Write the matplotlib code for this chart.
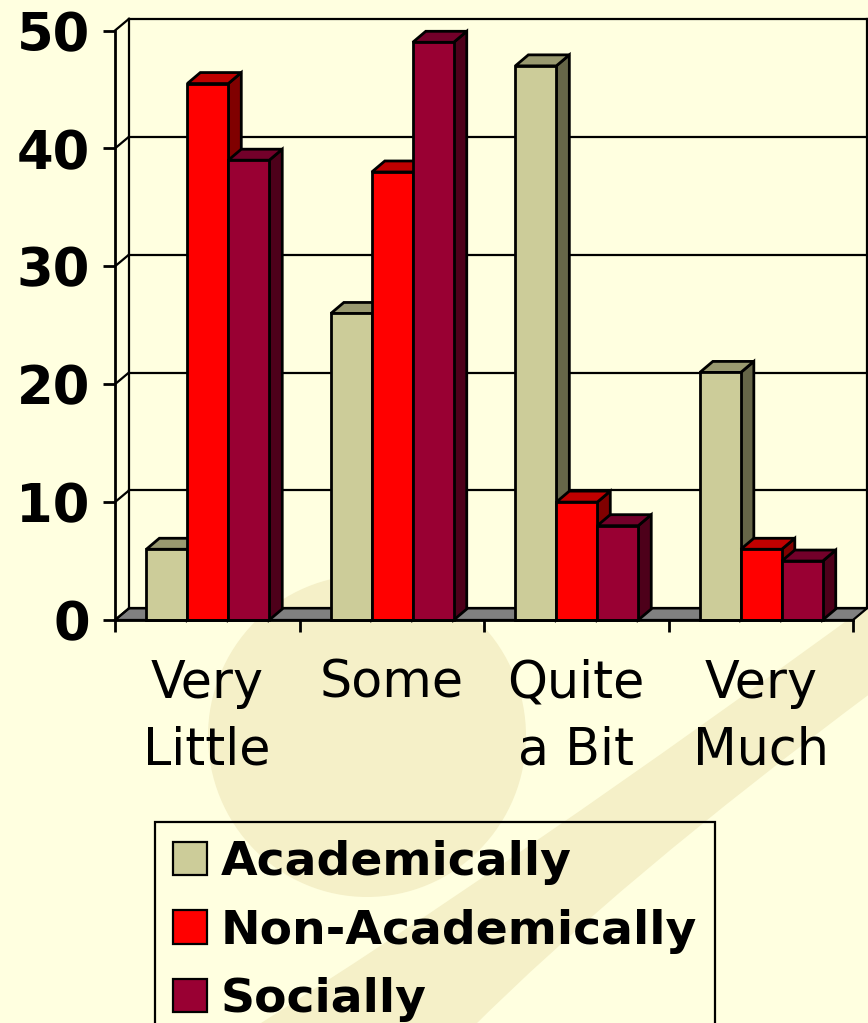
import matplotlib
matplotlib.use("Agg")
import matplotlib.pyplot as plt
from matplotlib.patches import Rectangle, Polygon, Ellipse, PathPatch, Patch
from matplotlib.path import Path

# ---- data ----
categories = ["Very\nLittle", "Some", "Quite\na Bit", "Very\nMuch"]
series_names = ["Academically", "Non-Academically", "Socially"]
academically = [6, 26, 47, 21]
non_academically = [45.5, 38, 10, 6]
socially = [39, 49, 8, 5]
y_ticks = [0, 10, 20, 30, 40, 50]

series_values = [academically, non_academically, socially]
face_colors = ["#CCCC99", "#FF0000", "#990033"]
top_colors = ["#999970", "#C00000", "#73002A"]
side_colors = ["#666648", "#800000", "#4D001A"]

W, H = 868, 1023
fig = plt.figure(figsize=(W / 100, H / 100), dpi=100)
BG = "#FFFFE0"
TAN = "#F5F0C8"
fig.patch.set_facecolor(BG)

# background decoration
bg = fig.add_axes([0, 0, 1, 1], zorder=-5)
bg.set_xlim(0, W)
bg.set_ylim(H, 0)
bg.axis("off")
bg.add_patch(Ellipse((367, 736), 318, 322, facecolor=TAN, edgecolor="none"))
verts = [(250, 1030), (520, 860), (875, 600), (875, 690), (620, 880), (470, 1030), (250, 1030)]
codes = [Path.MOVETO, Path.CURVE3, Path.CURVE3, Path.LINETO, Path.CURVE3, Path.CURVE3, Path.CLOSEPOLY]
bg.add_patch(PathPatch(Path(verts, codes), facecolor=TAN, edgecolor="none"))

# main axes: front plane
left_px, right_px, y0_px, y50_px = 115, 853, 620, 30.5
ax = fig.add_axes([left_px / W, (H - y0_px) / H, (right_px - left_px) / W, (y0_px - y50_px) / H])
ax.set_facecolor("none")
ncat = len(categories)
ax.set_xlim(0, ncat)
ax.set_ylim(0, 50)
px_x = ncat / (right_px - left_px)
px_y = 50 / (y0_px - y50_px)

LW = 1.6
BLW = 2.0
WDX, WDY = 14 * px_x, 11.7 * px_y
BDX, BDY = 13 * px_x, 11 * px_y

# floor
ax.add_patch(Polygon([(0, 0), (ncat, 0), (ncat + WDX, WDY), (WDX, WDY)], closed=True,
                     facecolor="#808080", edgecolor="black", lw=LW, zorder=1, clip_on=False))
# back wall gridlines + left wall connectors
for v in y_ticks:
    ax.plot([WDX, ncat + WDX], [v + WDY, v + WDY], color="black", lw=LW, zorder=1, clip_on=False)
    ax.plot([0, WDX], [v, v + WDY], color="black", lw=LW, zorder=1, clip_on=False)
ax.plot([WDX, WDX], [WDY, 50 + WDY], color="black", lw=LW, zorder=1, clip_on=False)
ax.plot([ncat + WDX, ncat + WDX], [WDY, 50 + WDY], color="black", lw=LW, zorder=1, clip_on=False)

# bars
bw = 0.222
off = 0.17
z = 2
for i in range(ncat):
    for j, vals in enumerate(series_values):
        v = vals[i]
        x = i + off + j * bw
        kw = dict(edgecolor="black", lw=BLW, joinstyle="miter", clip_on=False)
        ax.add_patch(Polygon([(x + bw, 0), (x + bw + BDX, BDY), (x + bw + BDX, v + BDY), (x + bw, v)],
                             closed=True, facecolor=side_colors[j], zorder=z, **kw))
        ax.add_patch(Polygon([(x, v), (x + bw, v), (x + bw + BDX, v + BDY), (x + BDX, v + BDY)],
                             closed=True, facecolor=top_colors[j], zorder=z, **kw))
        ax.add_patch(Rectangle((x, 0), bw, v, facecolor=face_colors[j], zorder=z + 0.5, **kw))
        z += 1

# axes styling
for s in ["top", "right"]:
    ax.spines[s].set_visible(False)
for s in ["left", "bottom"]:
    ax.spines[s].set_linewidth(BLW)
    ax.spines[s].set_zorder(z + 5)
ax.set_yticks(y_ticks)
ax.set_yticklabels([str(t) for t in y_ticks], fontsize=38, fontweight="bold", family="DejaVu Sans")
ax.tick_params(axis="y", length=8.6, width=BLW, pad=9.5)
ax.set_xticks(range(ncat + 1))
ax.set_xticklabels([])
ax.tick_params(axis="x", which="major", length=8.6, width=BLW)
ax.set_xticks([i + 0.5 for i in range(ncat)], minor=True)
ax.set_xticklabels(categories, minor=True, fontsize=36.5, linespacing=1.42)
ax.tick_params(axis="x", which="minor", length=0, pad=28)

# legend
handles = [Patch(facecolor=c, edgecolor="black", lw=LW) for c in face_colors]
leg = fig.legend(handles, series_names, loc="upper left",
                 bbox_to_anchor=(155 / W, 1 - 822 / H), borderaxespad=0,
                 prop=dict(family="DejaVu Sans", weight="bold", size=34),
                 frameon=True, fancybox=False, edgecolor="black", facecolor="none",
                 framealpha=1, handlelength=0.72, handleheight=0.72, handletextpad=0.3,
                 borderpad=0.38, labelspacing=0.5)
leg.get_frame().set_linewidth(LW)

fig.savefig("out.png", dpi=100, facecolor=BG)
